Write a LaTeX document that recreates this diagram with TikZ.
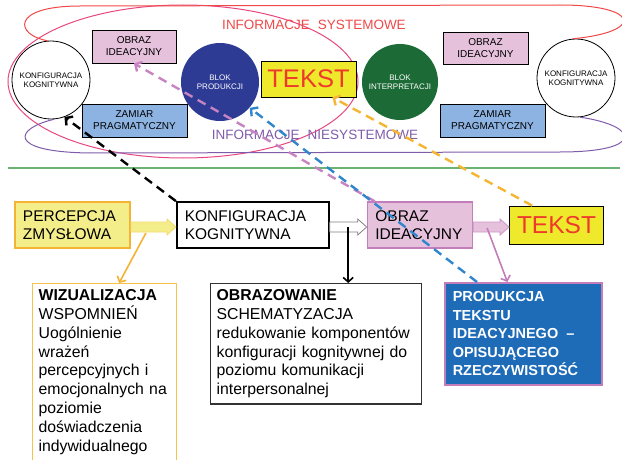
\documentclass[tikz,border=0pt]{standalone}
\usepackage{fontspec}
\setmainfont{Liberation Sans}
\usepackage{tikz}
\usetikzlibrary{arrows.meta,positioning,calc}
\definecolor{ideaPink}{HTML}{E6C1DC}
\definecolor{ideaBorder}{HTML}{C27DBA}
\definecolor{pragBlue}{HTML}{8DB3E2}
\definecolor{prodBlue}{HTML}{2E3B95}
\definecolor{interGreen}{HTML}{1C6B37}
\definecolor{textYellow}{HTML}{EFE92B}
\definecolor{textRed}{HTML}{EE3A2C}
\definecolor{sysRed}{HTML}{EF4848}
\definecolor{nonPurple}{HTML}{7F5CAA}
\definecolor{ellPink}{HTML}{E8467F}
\definecolor{lineGreen}{HTML}{6BB373}
\definecolor{percYellow}{HTML}{F4EE8A}
\definecolor{percOrange}{HTML}{F5B233}
\definecolor{wizOrange}{HTML}{F8C14C}
\definecolor{fillBlue}{HTML}{1E6BB8}
\definecolor{dashBlue}{HTML}{2F86CC}
\definecolor{dashPink}{HTML}{C883C2}
\definecolor{dashOrange}{HTML}{F6B531}
\newcommand{\fatarrow}[4]{%
  \draw[draw=#4, fill=#3, line width=0.8pt] let \p1=(#1.east), \p2=(#2.west) in
    (\x1,\y1+3pt) -- (\x2-9pt,\y1+3pt) -- (\x2-9pt,\y1+6pt) -- (\x2,\y1-2pt)
    -- (\x2-9pt,\y1-10pt) -- (\x2-9pt,\y1-7pt) -- (\x1,\y1-7pt) -- cycle;}

\begin{document}
\begin{tikzpicture}[
  x=1pt, y=-1pt,
  box/.style={draw, minimum height=33pt, align=center, inner sep=2pt,
              line width=0.8pt, font=\fontsize{10}{12}\selectfont},
  circ/.style={circle, draw, minimum size=78pt, inner sep=0pt, align=center,
               line width=0.8pt, font=\fontsize{8}{9.5}\selectfont},
  flow/.style={draw, line width=1.8pt, minimum height=46pt, inner sep=8pt,
               align=left, font=\fontsize{15.5}{18}\selectfont},
  note/.style={draw, anchor=north west, align=left, inner sep=6pt,
               font=\fontsize{15.8}{18.8}\selectfont},
  arr/.style={-{Straight Barb[length=4.5pt,width=10pt]}, line width=1.6pt},
  dasharr/.style={dash pattern=on 9pt off 6pt, line width=2.4pt,
                  -{Straight Barb[length=5pt,width=11pt]}}
]
\useasboundingbox (0,0) rectangle (622,460);
\draw[ellPink, line width=1pt] (183,81.5) ellipse [x radius=175pt, y radius=76.5pt];
\draw[lineGreen, line width=1.2pt] (8,168) -- (620,168);

\node[circ, fill=white] (kogL) at (51,80) {KONFIGURACJA\\KOGNITYWNA};
\node[box, fill=ideaPink, minimum width=84pt] (obrazL) at (134,46.5) {OBRAZ\\IDEACYJNY};
\node[box, fill=pragBlue, minimum width=105pt] (zamiarL) at (134.5,120.5) {ZAMIAR\\PRAGMATYCZNY};
\node[circ, draw=none, fill=prodBlue, text=white] (blokP) at (220,82) {BLOK\\PRODUKCJI};
\node[box, fill=textYellow, text=textRed, minimum width=95pt, minimum height=36pt,
      font=\fontsize{25.5}{28}\selectfont] (tekstT) at (308.5,79) {TEKST};
\node[circ, draw=none, fill=interGreen, text=white, minimum size=76pt] (blokI) at (400,82) {BLOK\\INTERPRETACJI};
\node[box, fill=ideaPink, minimum width=85pt, minimum height=32pt] (obrazR) at (485.5,48) {OBRAZ\\IDEACYJNY};
\node[box, fill=pragBlue, minimum width=105pt] (zamiarR) at (492.5,120.5) {ZAMIAR\\PRAGMATYCZNY};
\node[circ, fill=white] (kogR) at (576,78) {KONFIGURACJA\\KOGNITYWNA};
\node[text=sysRed, font=\fontsize{13.5}{16}\selectfont] (infoSys) at (314,25) {INFORMACJE\hspace{8pt}SYSTEMOWE};
\node[text=nonPurple, font=\fontsize{13.5}{16}\selectfont] (infoNon) at (315,135) {INFORMACJE\hspace{8pt}NIESYSTEMOWE};
\draw[sysRed, line width=1pt] (kogL.95) .. controls (15,35) and (10,6) .. (80,6) -- (560,5)
  .. controls (640,5) and (645,32) .. (kogR.95);
\draw[nonPurple, line width=1pt] (kogL.275) .. controls (15,128) and (5,152) .. (90,153) -- (560,152)
  .. controls (645,152) and (640,126) .. (kogR.276);

\node[flow, fill=percYellow, draw=percOrange, text width=99pt] (percB) at (72.5,225) {PERCEPCJA\\ZMYSŁOWA};
\node[flow, fill=white, text width=136pt, right=45pt of percB] (konfB) {KONFIGURACJA\\KOGNITYWNA};
\node[flow, fill=ideaPink, draw=ideaBorder, line width=1.4pt, text width=89pt, right=37pt of konfB] (obrazB) {OBRAZ\\IDEACYJNY};
\node[box, fill=textYellow, text=textRed, minimum width=94pt, minimum height=38pt,
      font=\fontsize{24.5}{27}\selectfont, right=36pt of obrazB] (tekstB) {TEKST};
\node[note, draw=wizOrange, line width=1.2pt, text width=132pt] (wizB) at (32,283)
  {\textbf{WIZUALIZACJA}\\WSPOMNIEŃ\\Uogólnienie\\wrażeń\\percepcyjnych i\\emocjonalnych na\\poziomie\\doświadczenia\\indywidualnego\rule[-18pt]{0pt}{18pt}};
\node[note, draw=black!80, line width=1.2pt, text width=199pt] (obrazowB) at (210,283)
  {\textbf{OBRAZOWANIE}\\SCHEMATYZACJA\\redukowanie komponentów\\konfiguracji kognitywnej do\\poziomu komunikacji\\interpersonalnej};
\node[note, fill=fillBlue, draw=ideaBorder, line width=1.5pt, text=white, inner xsep=8pt, inner ysep=9pt,
      text width=141pt, font=\bfseries\fontsize{14.5}{18.5}\selectfont] (prodB) at (444,282)
  {PRODUKCJA\\TEKSTU\\IDEACYJNEGO\hspace{8pt}–\\OPISUJĄCEGO\\RZECZYWISTOŚĆ};

\fatarrow{percB}{konfB}{percYellow}{percYellow!80!orange}
\fatarrow{konfB}{obrazB}{white}{black!50}
\fatarrow{obrazB}{tekstB}{ideaPink}{ideaBorder!80}
\coordinate (percFork) at ($(percB.east)+(15,8)$);
\coordinate (konfFork) at ($(konfB.east)!0.5!(obrazB.west)+(0,2)$);
\coordinate (obrazFork) at ($(obrazB.east)+(14,3)$);
\draw[arr, percOrange] (percFork) -- ($(wizB.north west)!0.6!(wizB.north east)$);
\draw[arr, black] (konfFork) -- (konfFork |- obrazowB.north);
\draw[arr, ideaBorder] (obrazFork) -- ($(prodB.north west)!0.4!(prodB.north east)$);

\draw[dasharr, black] (konfB.north west) -- (kogL.-70);
\draw[dasharr, dashPink] ($(obrazB.north west)+(8,0)$) -- (obrazL.south);
\draw[dasharr, dashBlue] ($(prodB.north west)+(33,0)$) -- (blokP.-41);
\draw[dasharr, dashOrange] ($(tekstB.north west)+(23,0)$) -- ($(tekstT.south west)!0.75!(tekstT.south east)$);
\end{tikzpicture}
\end{document}
